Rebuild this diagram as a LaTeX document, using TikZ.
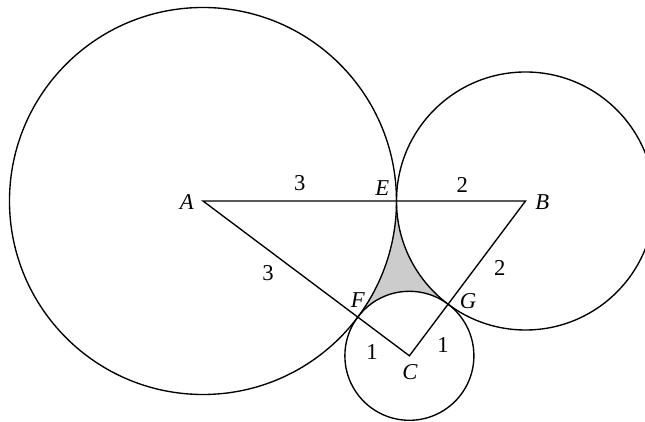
\documentclass[tikz,border=0pt]{standalone}
\usepackage{fontspec}
\setmainfont{Liberation Serif}
\begin{document}
\begin{tikzpicture}[x=1cm,y=1cm,
  geo/.style={line width=0.6pt,black},
  lbl/.style={inner sep=0pt,font=\fontsize{10}{12}\selectfont\itshape},
  num/.style={inner sep=0pt,font=\fontsize{10}{12}\selectfont}]
\useasboundingbox (-3.147,-3.411) rectangle (6.853,3.116);
\clip (-3.147,-3.411) rectangle (6.853,3.116);
\coordinate (A) at (0,0);
\coordinate (B) at (5,0);
\coordinate (C) at (3.2,-2.4);
\coordinate (E) at (3,0);
\coordinate (F) at (2.4,-1.8);
\coordinate (G) at (3.8,-1.6);
% shaded region
\fill[gray!40] (E) arc[start angle=0,end angle=-36.87,radius=3]
  arc[start angle=143.13,end angle=53.13,radius=1]
  arc[start angle=233.13,end angle=180,radius=2] -- cycle;
\draw[geo] (A) circle[radius=3];
\draw[geo] (B) circle[radius=2];
\draw[geo] (C) circle[radius=1];
\draw[geo] (A) -- (B) -- (C) -- cycle;
% labels
\node[lbl] (lA) at (-0.25,-0.02) {A};
\node[lbl] (lB) at (5.26,-0.02) {B};
\node[lbl] (lC) at (3.21,-2.65) {C};
\node[lbl] (lE) at (2.78,0.20) {E};
\node[lbl] (lF) at (2.40,-1.53) {F};
\node[lbl] (lG) at (4.11,-1.55) {G};
\node[num] (nAE) at (1.50,0.28) {3};
\node[num] (nEB) at (4.02,0.25) {2};
\node[num] (nAF) at (1.01,-1.12) {3};
\node[num] (nBG) at (4.60,-1.04) {2};
\node[num] (nFC) at (2.62,-2.34) {1};
\node[num] (nCG) at (3.72,-2.23) {1};
\end{tikzpicture}
\end{document}
